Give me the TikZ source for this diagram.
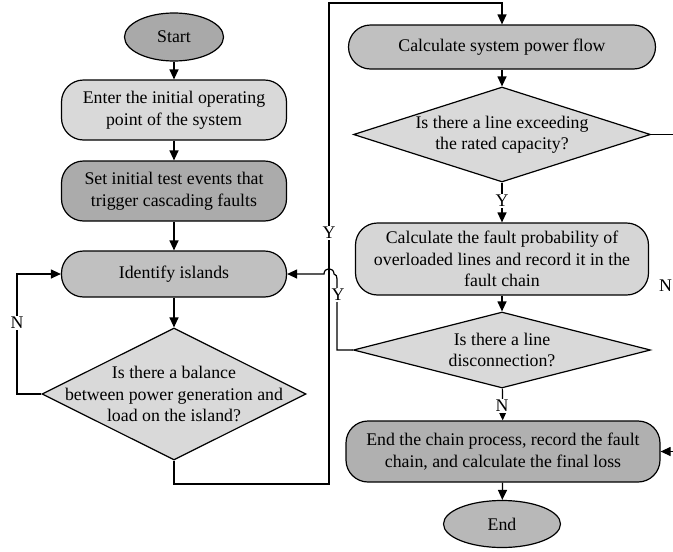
\documentclass[tikz,border=0pt]{standalone}
\usepackage{fontspec}
\setmainfont{Liberation Serif}
\usetikzlibrary{shapes.geometric,arrows.meta}
\definecolor{gstart}{HTML}{A9A9A9}
\definecolor{glight}{HTML}{D9D9D9}
\definecolor{gset}{HTML}{ABABAB}
\definecolor{gmid}{HTML}{C0C0C0}
\definecolor{gprob}{HTML}{D6D6D6}
\definecolor{gfin}{HTML}{B0B0B0}
\definecolor{gend}{HTML}{B8B8B8}
\tikzset{
  txt/.style={font=\fontsize{17.8}{21.5}\selectfont, align=center, inner sep=0pt},
  shp/.style={draw, line width=1.2pt, inner sep=0pt},
  term/.style={shp, ellipse, txt},
  proc/.style={shp, rectangle, rounded corners=22pt, txt},
  dia/.style={shp, diamond},
  arr/.style={line width=1.2pt, -{Triangle[length=10pt,width=9pt]}},
  ln/.style={line width=1.2pt},
  lbl/.style={txt, fill=white, inner sep=1.5pt}
}
\begin{document}
\begin{tikzpicture}[x=1pt,y=-1pt]
\useasboundingbox (0,0) rectangle (673,552);
\clip (0,0) rectangle (673,552);

% left column
\node[term, fill=gstart, minimum width=99pt, minimum height=48pt] (start) at (174,37) {Start};
\node[proc, fill=glight, minimum width=225pt, minimum height=60pt] (enter) at (174,110) {Enter the initial operating\\point of the system};
\node[proc, fill=gset, minimum width=225pt, minimum height=60pt] (set) at (174,191) {Set initial test events that\\trigger cascading faults};
\node[proc, fill=gmid, minimum width=225pt, minimum height=46pt] (isl) at (174,274) {Identify islands};
\node[dia, fill=glight, minimum width=264pt, minimum height=132pt] (d1) at (174,394) {};
\node[txt] (d1t) at (d1.center) {Is there a balance\\between power generation and\\load on the island?};

% right column
\node[proc, fill=gmid, minimum width=307pt, minimum height=44pt] (flow) at (502,47) {Calculate system power flow};
\node[dia, fill=glight, minimum width=297pt, minimum height=95pt] (d2) at (502,134.5) {};
\node[txt] (d2t) at (d2.center) {Is there a line exceeding\\the rated capacity?};
\node[proc, fill=gprob, minimum width=293pt, minimum height=72pt] (prob) at (502,259) {Calculate the fault probability of\\overloaded lines and record it in the\\fault chain};
\node[dia, fill=glight, minimum width=297pt, minimum height=76pt] (d3) at (502,350) {};
\node[txt] (d3t) at (d3.center) {Is there a line\\disconnection?};
\node[proc, fill=gfin, minimum width=314pt, minimum height=61pt] (fin) at (503,451.5) {End the chain process, record the fault\\chain, and calculate the final loss};
\node[term, fill=gend, minimum width=117pt, minimum height=47pt] (end) at (502,524) {End};

% helper points of the loops
\coordinate (nl1) at (17,394);
\coordinate (nl2) at (17,274);
\coordinate (yb1) at (174,484);
\coordinate (yb2) at (329,484);
\coordinate (yb3) at (329,3);
\coordinate (yb4) at (502,3);
\coordinate (yd1) at (337,350);
\coordinate (yd2) at (337,279);
\coordinate (hopR) at (334,274);
\coordinate (hopL) at (324,274);
\coordinate (nr1) at (682,134.5);
\coordinate (nr2) at (682,451.5);

% straight flow
\draw[arr] (start) -- (enter);
\draw[arr] (enter) -- (set);
\draw[arr] (set) -- (isl);
\draw[arr] (isl) -- (d1);
\draw[arr] (flow) -- (d2);
\draw[arr] (d2) -- (prob);
\draw[arr] (prob) -- (d3);
\draw[arr] (d3) -- (fin);
\draw[arr] (fin) -- (end);

% loops
\draw[arr] (d1.west) -- (nl1) -- (nl2) -- (isl.west);
\draw[arr] (d1.south) -- (yb1) -- (yb2) -- (yb3) -- (yb4) -- (flow.north);
\draw[arr] (d3.west) -- (yd1) -- (yd2) to[out=90,in=0] (hopR)
  .. controls (334,267) and (324,267) .. (hopL) -- (isl.east);
\draw[ln] (d2.east) -- (nr1) -- (nr2);
\draw[arr] (nr2) -- (fin.east);

% branch labels
\node[lbl] (ln1) at (17,323) {N};
\node[lbl] (ly1) at (329,233) {Y};
\node[lbl] (ly2) at (338,295) {Y};
\node[lbl] (ly3) at (502,201) {Y};
\node[lbl] (ln2) at (502,406) {N};
\node[lbl] (ln3) at (665.5,286) {N};
\end{tikzpicture}
\end{document}
